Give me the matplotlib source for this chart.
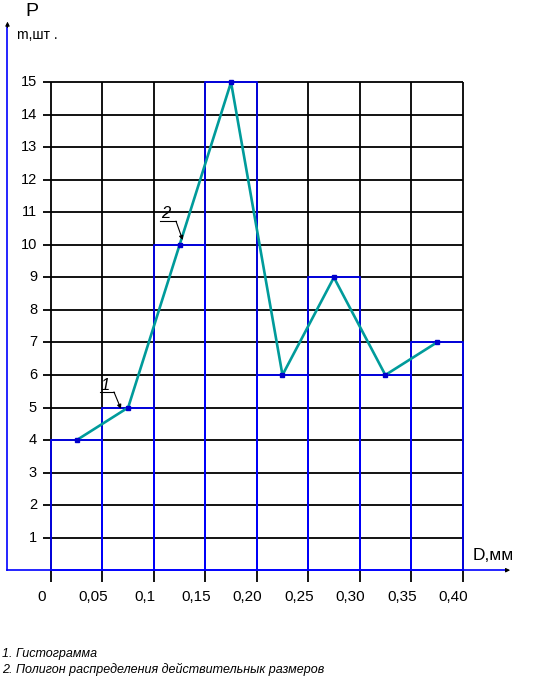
import matplotlib
matplotlib.use("Agg")
import matplotlib.pyplot as plt
import numpy as np

# ---- data ----
bin_edges = [0.0, 0.05, 0.10, 0.15, 0.20, 0.25, 0.30, 0.35, 0.40]
counts = [4, 5, 10, 15, 6, 9, 6, 7]
x_tick_labels = ["0", "0,05", "0,1", "0,15", "0,20", "0,25", "0,30", "0,35", "0,40"]
y_ticks = list(range(1, 16))
footnotes = ["1. Гистограмма", "2. Полигон распределения действительнык размеров"]

FONT = ['Liberation Sans Narrow', 'Liberation Sans', 'DejaVu Sans']
plt.rcParams['font.family'] = FONT

W, H = 538, 681
fig = plt.figure(figsize=(W / 100, H / 100), dpi=100)
ax = fig.add_axes([0, 0, 1, 1])
# pixel mapping: x_px = 51 + X*1028.75 ; y_px = 570.2 - Y*32.53
sx, x0 = 1028.75, 51.0
sy, y0 = 32.53, 570.2
ax.set_xlim((0 - x0) / sx, (W - x0) / sx)
ax.set_ylim((y0 - H) / sy, y0 / sy)
ax.axis('off')

edges = np.array(bin_edges)
widths = np.diff(edges)
mids = edges[:-1] + widths / 2

black_lw = 1.3
# grid (black)
ax.hlines(y_ticks, -0.008, edges[-1], colors='black', lw=black_lw, zorder=1)
ax.vlines(edges, -0.37, max(y_ticks), colors='black', lw=black_lw, zorder=1)

# histogram (blue outlines)
ax.bar(edges[:-1], counts, width=widths, align='edge', fill=False,
       edgecolor='#0000ff', lw=1.2, zorder=2)

# axes lines (blue) with arrows
ax.plot([-0.0423, -0.0423], [0, 16.7], color='#0000ff', lw=1.2, zorder=3)
ax.plot([-0.0423, 0.4413], [0, 0], color='#0000ff', lw=1.2, zorder=3)
ax.annotate('', xy=(-0.0423, 16.95), xytext=(-0.0423, 16.6),
            arrowprops=dict(arrowstyle='-|>', color='black', lw=0.8, mutation_scale=6))
ax.annotate('', xy=(0.449, 0), xytext=(0.440, 0),
            arrowprops=dict(arrowstyle='-|>', color='black', lw=0.8, mutation_scale=6))

# polygon
ax.plot(mids, counts, color='#009b9b', lw=1.9, zorder=4)
ax.plot(mids, counts, ls='none', marker='s', ms=2.2, color='#0000cc', zorder=5)

# tick labels
for v in y_ticks:
    ax.text(-0.0136, v, str(v), ha='right', va='center', fontsize=10.5, zorder=6)
for xv, lab in zip(edges, x_tick_labels):
    ax.text(xv - 0.009, -0.82, lab, ha='center', va='center', fontsize=11, zorder=6)

# axis titles
ax.text(-0.0185, 17.16, 'P', ha='center', va='center', fontsize=14)
ax.text(-0.033, 16.45, 'm,шт .', ha='left', va='center', fontsize=10)
ax.text(0.410, 0.31, 'D,мм', ha='left', va='baseline', fontsize=12.5)

# leader annotations
ax.plot([0.0476, 0.0612], [5.48, 5.48], color='black', lw=0.8, zorder=6)
ax.annotate('', xy=(0.068, 4.96), xytext=(0.0612, 5.48),
            arrowprops=dict(arrowstyle='-|>', color='black', lw=0.8, mutation_scale=6,
                            shrinkA=0, shrinkB=0), zorder=6)
ax.text(0.0525, 5.69, '1', ha='center', va='center', fontsize=12, style='italic')
ax.plot([0.106, 0.1215], [10.73, 10.73], color='black', lw=0.8, zorder=6)
ax.annotate('', xy=(0.128, 10.15), xytext=(0.1215, 10.73),
            arrowprops=dict(arrowstyle='-|>', color='black', lw=0.8, mutation_scale=6,
                            shrinkA=0, shrinkB=0), zorder=6)
ax.text(0.1118, 10.98, '2', ha='center', va='center', fontsize=12, style='italic')

# footnotes
fig.text(2 / W, 1 - 657 / H, footnotes[0], ha='left', va='baseline', fontsize=9, style='italic')
fig.text(2 / W, 1 - 673 / H, footnotes[1], ha='left', va='baseline', fontsize=9, style='italic')

fig.savefig('out.png', dpi=100)
